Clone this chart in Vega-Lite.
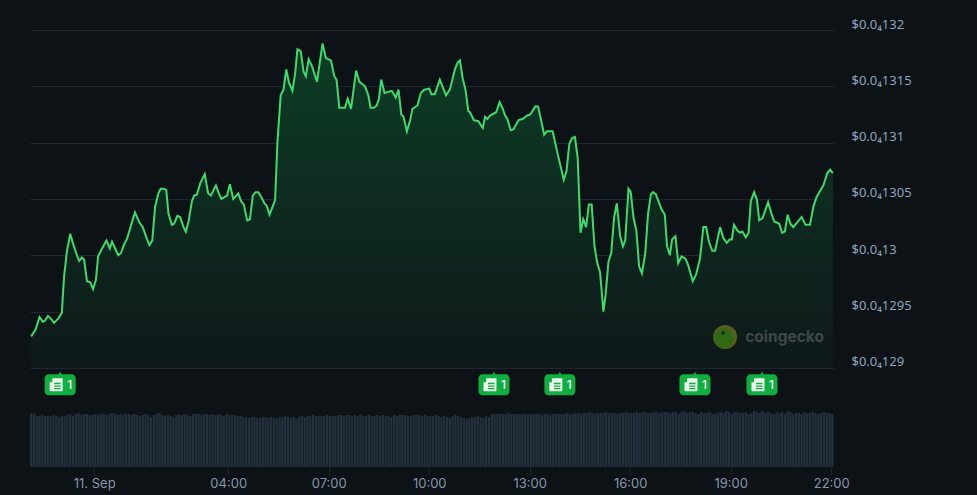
{
"$schema":"https://vega.github.io/schema/vega-lite/v6.json",
"autosize":{"type":"none"},
"padding":{"left":30,"top":30,"right":143,"bottom":28},
"width":804,
"height":437,
"background":"#0d1217",
"config":{"view":{"stroke":null},"font":"Inter"},
"datasets":{
"price":[
{"t":"2024-09-10T22:07Z","p":0.000012928},{"t":"2024-09-10T22:15Z","p":0.000012934},{"t":"2024-09-10T22:22Z","p":0.000012945},{"t":"2024-09-10T22:28Z","p":0.000012941},{"t":"2024-09-10T22:32Z","p":0.000012942},{"t":"2024-09-10T22:37Z","p":0.000012946},{"t":"2024-09-10T22:42Z","p":0.000012944},{"t":"2024-09-10T22:48Z","p":0.00001294},{"t":"2024-09-10T22:56Z","p":0.000012944},{"t":"2024-09-10T23:02Z","p":0.000012949},
{"t":"2024-09-10T23:06Z","p":0.000012981},{"t":"2024-09-10T23:11Z","p":0.000013003},{"t":"2024-09-10T23:17Z","p":0.000013019},{"t":"2024-09-10T23:23Z","p":0.000013009},{"t":"2024-09-10T23:29Z","p":0.000013},{"t":"2024-09-10T23:33Z","p":0.000012995},{"t":"2024-09-10T23:38Z","p":0.000012998},{"t":"2024-09-10T23:42Z","p":0.000012996},{"t":"2024-09-10T23:47Z","p":0.000012977},{"t":"2024-09-10T23:53Z","p":0.000012976},
{"t":"2024-09-10T23:58Z","p":0.00001297},{"t":"2024-09-11T00:03Z","p":0.000012978},{"t":"2024-09-11T00:07Z","p":0.000012999},{"t":"2024-09-11T00:14Z","p":0.000013006},{"t":"2024-09-11T00:22Z","p":0.000013013},{"t":"2024-09-11T00:28Z","p":0.000013006},{"t":"2024-09-11T00:32Z","p":0.000013012},{"t":"2024-09-11T00:43Z","p":0.000013},{"t":"2024-09-11T00:48Z","p":0.000013002},{"t":"2024-09-11T00:53Z","p":0.000013009},
{"t":"2024-09-11T00:59Z","p":0.000013015},{"t":"2024-09-11T01:05Z","p":0.000013025},{"t":"2024-09-11T01:13Z","p":0.000013038},{"t":"2024-09-11T01:21Z","p":0.000013029},{"t":"2024-09-11T01:27Z","p":0.000013025},{"t":"2024-09-11T01:34Z","p":0.000013015},{"t":"2024-09-11T01:39Z","p":0.000013009},{"t":"2024-09-11T01:44Z","p":0.000013013},{"t":"2024-09-11T01:49Z","p":0.000013043},{"t":"2024-09-11T01:55Z","p":0.000013055},
{"t":"2024-09-11T01:59Z","p":0.000013059},{"t":"2024-09-11T02:04Z","p":0.000013059},{"t":"2024-09-11T02:09Z","p":0.000013058},{"t":"2024-09-11T02:13Z","p":0.000013037},{"t":"2024-09-11T02:19Z","p":0.000013027},{"t":"2024-09-11T02:23Z","p":0.000013028},{"t":"2024-09-11T02:29Z","p":0.000013035},{"t":"2024-09-11T02:34Z","p":0.000013034},{"t":"2024-09-11T02:40Z","p":0.000013025},{"t":"2024-09-11T02:44Z","p":0.000013021},
{"t":"2024-09-11T02:49Z","p":0.00001303},{"t":"2024-09-11T02:55Z","p":0.000013048},{"t":"2024-09-11T02:59Z","p":0.000013053},{"t":"2024-09-11T03:04Z","p":0.000013054},{"t":"2024-09-11T03:10Z","p":0.000013064},{"t":"2024-09-11T03:18Z","p":0.000013072},{"t":"2024-09-11T03:24Z","p":0.000013055},{"t":"2024-09-11T03:29Z","p":0.000013053},{"t":"2024-09-11T03:38Z","p":0.000013062},{"t":"2024-09-11T03:44Z","p":0.000013054},
{"t":"2024-09-11T03:48Z","p":0.00001305},{"t":"2024-09-11T03:58Z","p":0.000013053},{"t":"2024-09-11T04:03Z","p":0.000013063},{"t":"2024-09-11T04:09Z","p":0.00001305},{"t":"2024-09-11T04:18Z","p":0.000013055},{"t":"2024-09-11T04:23Z","p":0.000013048},{"t":"2024-09-11T04:28Z","p":0.000013045},{"t":"2024-09-11T04:34Z","p":0.000013031},{"t":"2024-09-11T04:39Z","p":0.000013032},{"t":"2024-09-11T04:44Z","p":0.000013053},
{"t":"2024-09-11T04:49Z","p":0.000013056},{"t":"2024-09-11T04:54Z","p":0.000013056},{"t":"2024-09-11T05:00Z","p":0.000013051},{"t":"2024-09-11T05:05Z","p":0.000013046},{"t":"2024-09-11T05:09Z","p":0.000013044},{"t":"2024-09-11T05:14Z","p":0.000013036},{"t":"2024-09-11T05:24Z","p":0.000013049},{"t":"2024-09-11T05:28Z","p":0.000013099},{"t":"2024-09-11T05:34Z","p":0.000013142},{"t":"2024-09-11T05:39Z","p":0.000013147},
{"t":"2024-09-11T05:44Z","p":0.000013165},{"t":"2024-09-11T05:49Z","p":0.000013153},{"t":"2024-09-11T05:55Z","p":0.000013146},{"t":"2024-09-11T06:00Z","p":0.000013162},{"t":"2024-09-11T06:04Z","p":0.000013183},{"t":"2024-09-11T06:10Z","p":0.000013181},{"t":"2024-09-11T06:15Z","p":0.000013163},{"t":"2024-09-11T06:19Z","p":0.000013159},{"t":"2024-09-11T06:24Z","p":0.000013174},{"t":"2024-09-11T06:30Z","p":0.000013168},
{"t":"2024-09-11T06:39Z","p":0.000013154},{"t":"2024-09-11T06:49Z","p":0.000013188},{"t":"2024-09-11T06:55Z","p":0.000013175},{"t":"2024-09-11T07:04Z","p":0.000013173},{"t":"2024-09-11T07:10Z","p":0.000013159},{"t":"2024-09-11T07:14Z","p":0.000013156},{"t":"2024-09-11T07:19Z","p":0.000013131},{"t":"2024-09-11T07:29Z","p":0.000013131},{"t":"2024-09-11T07:34Z","p":0.000013139},{"t":"2024-09-11T07:40Z","p":0.00001313},
{"t":"2024-09-11T07:49Z","p":0.000013164},{"t":"2024-09-11T07:55Z","p":0.000013154},{"t":"2024-09-11T08:05Z","p":0.00001315},{"t":"2024-09-11T08:11Z","p":0.000013142},{"t":"2024-09-11T08:15Z","p":0.000013131},{"t":"2024-09-11T08:21Z","p":0.000013131},{"t":"2024-09-11T08:26Z","p":0.000013133},{"t":"2024-09-11T08:30Z","p":0.000013139},{"t":"2024-09-11T08:34Z","p":0.000013156},{"t":"2024-09-11T08:40Z","p":0.000013144},
{"t":"2024-09-11T08:53Z","p":0.000013146},{"t":"2024-09-11T09:00Z","p":0.00001314},{"t":"2024-09-11T09:05Z","p":0.000013147},{"t":"2024-09-11T09:10Z","p":0.000013125},{"t":"2024-09-11T09:14Z","p":0.000013123},{"t":"2024-09-11T09:20Z","p":0.00001311},{"t":"2024-09-11T09:26Z","p":0.00001312},{"t":"2024-09-11T09:30Z","p":0.00001313},{"t":"2024-09-11T09:39Z","p":0.000013133},{"t":"2024-09-11T09:45Z","p":0.000013144},
{"t":"2024-09-11T09:51Z","p":0.000013147},{"t":"2024-09-11T10:00Z","p":0.000013148},{"t":"2024-09-11T10:04Z","p":0.000013143},{"t":"2024-09-11T10:10Z","p":0.000013143},{"t":"2024-09-11T10:19Z","p":0.000013156},{"t":"2024-09-11T10:30Z","p":0.000013142},{"t":"2024-09-11T10:37Z","p":0.000013147},{"t":"2024-09-11T10:46Z","p":0.000013165},{"t":"2024-09-11T10:51Z","p":0.000013171},{"t":"2024-09-11T10:55Z","p":0.000013173},
{"t":"2024-09-11T11:00Z","p":0.000013157},{"t":"2024-09-11T11:05Z","p":0.000013147},{"t":"2024-09-11T11:10Z","p":0.000013128},{"t":"2024-09-11T11:13Z","p":0.000013127},{"t":"2024-09-11T11:20Z","p":0.00001312},{"t":"2024-09-11T11:28Z","p":0.000013119},{"t":"2024-09-11T11:36Z","p":0.000013113},{"t":"2024-09-11T11:40Z","p":0.000013123},{"t":"2024-09-11T11:44Z","p":0.000013121},{"t":"2024-09-11T11:49Z","p":0.000013124},
{"t":"2024-09-11T12:00Z","p":0.000013127},{"t":"2024-09-11T12:06Z","p":0.000013136},{"t":"2024-09-11T12:11Z","p":0.000013131},{"t":"2024-09-11T12:16Z","p":0.000013124},{"t":"2024-09-11T12:20Z","p":0.000013121},{"t":"2024-09-11T12:26Z","p":0.000013111},{"t":"2024-09-11T12:31Z","p":0.000013112},{"t":"2024-09-11T12:40Z","p":0.00001312},{"t":"2024-09-11T12:47Z","p":0.000013121},{"t":"2024-09-11T12:55Z","p":0.000013124},
{"t":"2024-09-11T13:01Z","p":0.000013125},{"t":"2024-09-11T13:10Z","p":0.000013132},{"t":"2024-09-11T13:15Z","p":0.000013132},{"t":"2024-09-11T13:26Z","p":0.000013107},{"t":"2024-09-11T13:31Z","p":0.00001311},{"t":"2024-09-11T13:41Z","p":0.00001311},{"t":"2024-09-11T13:51Z","p":0.000013088},{"t":"2024-09-11T14:01Z","p":0.000013067},{"t":"2024-09-11T14:06Z","p":0.000013075},{"t":"2024-09-11T14:11Z","p":0.000013099},
{"t":"2024-09-11T14:16Z","p":0.000013104},{"t":"2024-09-11T14:21Z","p":0.000013105},{"t":"2024-09-11T14:26Z","p":0.000013086},{"t":"2024-09-11T14:31Z","p":0.00001302},{"t":"2024-09-11T14:36Z","p":0.000013032},{"t":"2024-09-11T14:41Z","p":0.000013025},{"t":"2024-09-11T14:46Z","p":0.000013045},{"t":"2024-09-11T14:51Z","p":0.000013045},{"t":"2024-09-11T14:56Z","p":0.000013008},{"t":"2024-09-11T15:01Z","p":0.000012993},
{"t":"2024-09-11T15:06Z","p":0.000012985},{"t":"2024-09-11T15:12Z","p":0.00001295},{"t":"2024-09-11T15:16Z","p":0.000012965},{"t":"2024-09-11T15:21Z","p":0.000012994},{"t":"2024-09-11T15:26Z","p":0.000013002},{"t":"2024-09-11T15:31Z","p":0.000013033},{"t":"2024-09-11T15:36Z","p":0.000013046},{"t":"2024-09-11T15:42Z","p":0.000013017},{"t":"2024-09-11T15:47Z","p":0.000013008},{"t":"2024-09-11T15:51Z","p":0.000013013},
{"t":"2024-09-11T15:57Z","p":0.000013059},{"t":"2024-09-11T16:01Z","p":0.000013056},{"t":"2024-09-11T16:06Z","p":0.000013033},{"t":"2024-09-11T16:11Z","p":0.000013022},{"t":"2024-09-11T16:16Z","p":0.00001299},{"t":"2024-09-11T16:21Z","p":0.000012984},{"t":"2024-09-11T16:27Z","p":0.000013002},{"t":"2024-09-11T16:32Z","p":0.000013037},{"t":"2024-09-11T16:37Z","p":0.000013054},{"t":"2024-09-11T16:41Z","p":0.000013056},
{"t":"2024-09-11T16:46Z","p":0.000013054},{"t":"2024-09-11T16:56Z","p":0.000013041},{"t":"2024-09-11T17:02Z","p":0.000013036},{"t":"2024-09-11T17:06Z","p":0.000013008},{"t":"2024-09-11T17:11Z","p":0.000013},{"t":"2024-09-11T17:15Z","p":0.000013014},{"t":"2024-09-11T17:21Z","p":0.000013017},{"t":"2024-09-11T17:26Z","p":0.000012993},{"t":"2024-09-11T17:32Z","p":0.000012999},{"t":"2024-09-11T17:39Z","p":0.000012997},
{"t":"2024-09-11T17:44Z","p":0.000012991},{"t":"2024-09-11T17:52Z","p":0.000012977},{"t":"2024-09-11T17:58Z","p":0.000012983},{"t":"2024-09-11T18:05Z","p":0.000012997},{"t":"2024-09-11T18:11Z","p":0.000013025},{"t":"2024-09-11T18:16Z","p":0.000013025},{"t":"2024-09-11T18:21Z","p":0.000013012},{"t":"2024-09-11T18:27Z","p":0.000013004},{"t":"2024-09-11T18:32Z","p":0.000013004},{"t":"2024-09-11T18:41Z","p":0.000013025},
{"t":"2024-09-11T18:47Z","p":0.000013015},{"t":"2024-09-11T18:53Z","p":0.000013011},{"t":"2024-09-11T18:58Z","p":0.000013014},{"t":"2024-09-11T19:02Z","p":0.000013014},{"t":"2024-09-11T19:06Z","p":0.000013027},{"t":"2024-09-11T19:12Z","p":0.000013022},{"t":"2024-09-11T19:17Z","p":0.00001302},{"t":"2024-09-11T19:21Z","p":0.000013021},{"t":"2024-09-11T19:27Z","p":0.000013016},{"t":"2024-09-11T19:32Z","p":0.00001302},
{"t":"2024-09-11T19:36Z","p":0.000013048},{"t":"2024-09-11T19:42Z","p":0.000013056},{"t":"2024-09-11T19:47Z","p":0.000013049},{"t":"2024-09-11T19:51Z","p":0.000013031},{"t":"2024-09-11T19:57Z","p":0.000013033},{"t":"2024-09-11T20:07Z","p":0.000013047},{"t":"2024-09-11T20:13Z","p":0.000013037},{"t":"2024-09-11T20:18Z","p":0.00001303},{"t":"2024-09-11T20:27Z","p":0.000013028},{"t":"2024-09-11T20:32Z","p":0.00001302},
{"t":"2024-09-11T20:37Z","p":0.000013021},{"t":"2024-09-11T20:42Z","p":0.000013036},{"t":"2024-09-11T20:47Z","p":0.000013028},{"t":"2024-09-11T20:52Z","p":0.000013025},{"t":"2024-09-11T21:07Z","p":0.000013034},{"t":"2024-09-11T21:14Z","p":0.000013027},{"t":"2024-09-11T21:22Z","p":0.000013027},{"t":"2024-09-11T21:28Z","p":0.000013043},{"t":"2024-09-11T21:34Z","p":0.000013052},{"t":"2024-09-11T21:46Z","p":0.000013062},
{"t":"2024-09-11T21:53Z","p":0.000013073},{"t":"2024-09-11T21:58Z","p":0.000013076},{"t":"2024-09-11T22:03Z","p":0.000013073}
],
"volume":[
{"t":"2024-09-10T22:07Z","v":54},{"t":"2024-09-10T22:12Z","v":53},{"t":"2024-09-10T22:17Z","v":51},{"t":"2024-09-10T22:22Z","v":51},{"t":"2024-09-10T22:27Z","v":52},{"t":"2024-09-10T22:32Z","v":51},{"t":"2024-09-10T22:37Z","v":51},{"t":"2024-09-10T22:42Z","v":51},{"t":"2024-09-10T22:47Z","v":52},{"t":"2024-09-10T22:52Z","v":51},{"t":"2024-09-10T22:57Z","v":50},{"t":"2024-09-10T23:02Z","v":51},
{"t":"2024-09-10T23:07Z","v":51},{"t":"2024-09-10T23:12Z","v":52},{"t":"2024-09-10T23:17Z","v":53},{"t":"2024-09-10T23:22Z","v":51},{"t":"2024-09-10T23:27Z","v":53},{"t":"2024-09-10T23:32Z","v":54},{"t":"2024-09-10T23:37Z","v":52},{"t":"2024-09-10T23:42Z","v":53},{"t":"2024-09-10T23:47Z","v":53},{"t":"2024-09-10T23:52Z","v":52},{"t":"2024-09-10T23:57Z","v":52},{"t":"2024-09-11T00:02Z","v":53},
{"t":"2024-09-11T00:07Z","v":52},{"t":"2024-09-11T00:12Z","v":53},{"t":"2024-09-11T00:17Z","v":53},{"t":"2024-09-11T00:22Z","v":52},{"t":"2024-09-11T00:27Z","v":53},{"t":"2024-09-11T00:32Z","v":54},{"t":"2024-09-11T00:37Z","v":53},{"t":"2024-09-11T00:42Z","v":52},{"t":"2024-09-11T00:47Z","v":53},{"t":"2024-09-11T00:52Z","v":52},{"t":"2024-09-11T00:57Z","v":53},{"t":"2024-09-11T01:02Z","v":53},
{"t":"2024-09-11T01:07Z","v":52},{"t":"2024-09-11T01:12Z","v":53},{"t":"2024-09-11T01:17Z","v":52},{"t":"2024-09-11T01:22Z","v":51},{"t":"2024-09-11T01:27Z","v":52},{"t":"2024-09-11T01:32Z","v":53},{"t":"2024-09-11T01:37Z","v":52},{"t":"2024-09-11T01:42Z","v":50},{"t":"2024-09-11T01:47Z","v":52},{"t":"2024-09-11T01:52Z","v":53},{"t":"2024-09-11T01:57Z","v":54},{"t":"2024-09-11T02:02Z","v":52},
{"t":"2024-09-11T02:07Z","v":51},{"t":"2024-09-11T02:12Z","v":52},{"t":"2024-09-11T02:17Z","v":51},{"t":"2024-09-11T02:22Z","v":50},{"t":"2024-09-11T02:27Z","v":52},{"t":"2024-09-11T02:32Z","v":53},{"t":"2024-09-11T02:37Z","v":52},{"t":"2024-09-11T02:42Z","v":53},{"t":"2024-09-11T02:47Z","v":52},{"t":"2024-09-11T02:52Z","v":51},{"t":"2024-09-11T02:57Z","v":53},{"t":"2024-09-11T03:02Z","v":53},
{"t":"2024-09-11T03:07Z","v":53},{"t":"2024-09-11T03:12Z","v":52},{"t":"2024-09-11T03:17Z","v":53},{"t":"2024-09-11T03:22Z","v":53},{"t":"2024-09-11T03:27Z","v":52},{"t":"2024-09-11T03:32Z","v":53},{"t":"2024-09-11T03:37Z","v":52},{"t":"2024-09-11T03:42Z","v":53},{"t":"2024-09-11T03:47Z","v":52},{"t":"2024-09-11T03:52Z","v":51},{"t":"2024-09-11T03:57Z","v":53},{"t":"2024-09-11T04:02Z","v":52},
{"t":"2024-09-11T04:07Z","v":52},{"t":"2024-09-11T04:12Z","v":52},{"t":"2024-09-11T04:17Z","v":51},{"t":"2024-09-11T04:22Z","v":51},{"t":"2024-09-11T04:27Z","v":50},{"t":"2024-09-11T04:32Z","v":50},{"t":"2024-09-11T04:37Z","v":49},{"t":"2024-09-11T04:42Z","v":50},{"t":"2024-09-11T04:47Z","v":50},{"t":"2024-09-11T04:52Z","v":49},{"t":"2024-09-11T04:57Z","v":49},{"t":"2024-09-11T05:02Z","v":50},
{"t":"2024-09-11T05:07Z","v":50},{"t":"2024-09-11T05:12Z","v":49},{"t":"2024-09-11T05:17Z","v":50},{"t":"2024-09-11T05:22Z","v":49},{"t":"2024-09-11T05:27Z","v":49},{"t":"2024-09-11T05:32Z","v":50},{"t":"2024-09-11T05:37Z","v":50},{"t":"2024-09-11T05:42Z","v":51},{"t":"2024-09-11T05:47Z","v":50},{"t":"2024-09-11T05:52Z","v":49},{"t":"2024-09-11T05:57Z","v":50},{"t":"2024-09-11T06:02Z","v":48},
{"t":"2024-09-11T06:07Z","v":50},{"t":"2024-09-11T06:12Z","v":51},{"t":"2024-09-11T06:17Z","v":50},{"t":"2024-09-11T06:22Z","v":51},{"t":"2024-09-11T06:27Z","v":51},{"t":"2024-09-11T06:32Z","v":52},{"t":"2024-09-11T06:37Z","v":51},{"t":"2024-09-11T06:42Z","v":51},{"t":"2024-09-11T06:47Z","v":51},{"t":"2024-09-11T06:52Z","v":51},{"t":"2024-09-11T06:57Z","v":52},{"t":"2024-09-11T07:02Z","v":51},
{"t":"2024-09-11T07:07Z","v":51},{"t":"2024-09-11T07:12Z","v":51},{"t":"2024-09-11T07:17Z","v":52},{"t":"2024-09-11T07:22Z","v":52},{"t":"2024-09-11T07:27Z","v":51},{"t":"2024-09-11T07:32Z","v":52},{"t":"2024-09-11T07:37Z","v":52},{"t":"2024-09-11T07:42Z","v":51},{"t":"2024-09-11T07:47Z","v":52},{"t":"2024-09-11T07:52Z","v":51},{"t":"2024-09-11T07:57Z","v":52},{"t":"2024-09-11T08:02Z","v":51},
{"t":"2024-09-11T08:07Z","v":51},{"t":"2024-09-11T08:12Z","v":52},{"t":"2024-09-11T08:17Z","v":51},{"t":"2024-09-11T08:22Z","v":51},{"t":"2024-09-11T08:27Z","v":52},{"t":"2024-09-11T08:32Z","v":51},{"t":"2024-09-11T08:37Z","v":52},{"t":"2024-09-11T08:42Z","v":51},{"t":"2024-09-11T08:47Z","v":51},{"t":"2024-09-11T08:52Z","v":50},{"t":"2024-09-11T08:57Z","v":52},{"t":"2024-09-11T09:02Z","v":51},
{"t":"2024-09-11T09:07Z","v":52},{"t":"2024-09-11T09:12Z","v":52},{"t":"2024-09-11T09:17Z","v":52},{"t":"2024-09-11T09:22Z","v":51},{"t":"2024-09-11T09:27Z","v":51},{"t":"2024-09-11T09:32Z","v":52},{"t":"2024-09-11T09:37Z","v":52},{"t":"2024-09-11T09:42Z","v":52},{"t":"2024-09-11T09:47Z","v":51},{"t":"2024-09-11T09:52Z","v":52},{"t":"2024-09-11T09:57Z","v":51},{"t":"2024-09-11T10:02Z","v":51},
{"t":"2024-09-11T10:07Z","v":51},{"t":"2024-09-11T10:12Z","v":52},{"t":"2024-09-11T10:17Z","v":51},{"t":"2024-09-11T10:22Z","v":50},{"t":"2024-09-11T10:27Z","v":51},{"t":"2024-09-11T10:32Z","v":50},{"t":"2024-09-11T10:37Z","v":49},{"t":"2024-09-11T10:42Z","v":51},{"t":"2024-09-11T10:47Z","v":52},{"t":"2024-09-11T10:52Z","v":51},{"t":"2024-09-11T10:57Z","v":50},{"t":"2024-09-11T11:02Z","v":49},
{"t":"2024-09-11T11:07Z","v":48},{"t":"2024-09-11T11:12Z","v":49},{"t":"2024-09-11T11:17Z","v":50},{"t":"2024-09-11T11:22Z","v":50},{"t":"2024-09-11T11:27Z","v":51},{"t":"2024-09-11T11:32Z","v":50},{"t":"2024-09-11T11:37Z","v":49},{"t":"2024-09-11T11:42Z","v":51},{"t":"2024-09-11T11:47Z","v":50},{"t":"2024-09-11T11:52Z","v":53},{"t":"2024-09-11T11:57Z","v":53},{"t":"2024-09-11T12:02Z","v":53},
{"t":"2024-09-11T12:07Z","v":53},{"t":"2024-09-11T12:12Z","v":53},{"t":"2024-09-11T12:17Z","v":53},{"t":"2024-09-11T12:22Z","v":54},{"t":"2024-09-11T12:27Z","v":53},{"t":"2024-09-11T12:32Z","v":53},{"t":"2024-09-11T12:37Z","v":53},{"t":"2024-09-11T12:42Z","v":53},{"t":"2024-09-11T12:47Z","v":53},{"t":"2024-09-11T12:52Z","v":53},{"t":"2024-09-11T12:57Z","v":52},{"t":"2024-09-11T13:02Z","v":53},
{"t":"2024-09-11T13:07Z","v":53},{"t":"2024-09-11T13:12Z","v":53},{"t":"2024-09-11T13:17Z","v":53},{"t":"2024-09-11T13:22Z","v":52},{"t":"2024-09-11T13:27Z","v":53},{"t":"2024-09-11T13:32Z","v":53},{"t":"2024-09-11T13:37Z","v":52},{"t":"2024-09-11T13:42Z","v":53},{"t":"2024-09-11T13:47Z","v":53},{"t":"2024-09-11T13:52Z","v":53},{"t":"2024-09-11T13:57Z","v":53},{"t":"2024-09-11T14:02Z","v":53},
{"t":"2024-09-11T14:07Z","v":54},{"t":"2024-09-11T14:12Z","v":53},{"t":"2024-09-11T14:17Z","v":53},{"t":"2024-09-11T14:22Z","v":54},{"t":"2024-09-11T14:27Z","v":54},{"t":"2024-09-11T14:32Z","v":53},{"t":"2024-09-11T14:37Z","v":54},{"t":"2024-09-11T14:42Z","v":54},{"t":"2024-09-11T14:47Z","v":55},{"t":"2024-09-11T14:52Z","v":54},{"t":"2024-09-11T14:57Z","v":53},{"t":"2024-09-11T15:02Z","v":54},
{"t":"2024-09-11T15:07Z","v":54},{"t":"2024-09-11T15:12Z","v":54},{"t":"2024-09-11T15:17Z","v":55},{"t":"2024-09-11T15:22Z","v":54},{"t":"2024-09-11T15:27Z","v":54},{"t":"2024-09-11T15:32Z","v":54},{"t":"2024-09-11T15:37Z","v":53},{"t":"2024-09-11T15:42Z","v":54},{"t":"2024-09-11T15:47Z","v":54},{"t":"2024-09-11T15:52Z","v":55},{"t":"2024-09-11T15:57Z","v":54},{"t":"2024-09-11T16:02Z","v":54},
{"t":"2024-09-11T16:07Z","v":54},{"t":"2024-09-11T16:12Z","v":55},{"t":"2024-09-11T16:17Z","v":54},{"t":"2024-09-11T16:22Z","v":55},{"t":"2024-09-11T16:27Z","v":55},{"t":"2024-09-11T16:32Z","v":54},{"t":"2024-09-11T16:37Z","v":54},{"t":"2024-09-11T16:42Z","v":55},{"t":"2024-09-11T16:47Z","v":55},{"t":"2024-09-11T16:52Z","v":54},{"t":"2024-09-11T16:57Z","v":55},{"t":"2024-09-11T17:02Z","v":55},
{"t":"2024-09-11T17:07Z","v":55},{"t":"2024-09-11T17:12Z","v":54},{"t":"2024-09-11T17:17Z","v":55},{"t":"2024-09-11T17:22Z","v":55},{"t":"2024-09-11T17:27Z","v":53},{"t":"2024-09-11T17:32Z","v":55},{"t":"2024-09-11T17:37Z","v":56},{"t":"2024-09-11T17:42Z","v":54},{"t":"2024-09-11T17:47Z","v":55},{"t":"2024-09-11T17:52Z","v":55},{"t":"2024-09-11T17:57Z","v":54},{"t":"2024-09-11T18:02Z","v":53},
{"t":"2024-09-11T18:07Z","v":55},{"t":"2024-09-11T18:12Z","v":54},{"t":"2024-09-11T18:17Z","v":54},{"t":"2024-09-11T18:22Z","v":55},{"t":"2024-09-11T18:27Z","v":53},{"t":"2024-09-11T18:32Z","v":53},{"t":"2024-09-11T18:37Z","v":54},{"t":"2024-09-11T18:42Z","v":55},{"t":"2024-09-11T18:47Z","v":54},{"t":"2024-09-11T18:52Z","v":56},{"t":"2024-09-11T18:57Z","v":55},{"t":"2024-09-11T19:02Z","v":53},
{"t":"2024-09-11T19:07Z","v":55},{"t":"2024-09-11T19:12Z","v":55},{"t":"2024-09-11T19:17Z","v":54},{"t":"2024-09-11T19:22Z","v":54},{"t":"2024-09-11T19:27Z","v":55},{"t":"2024-09-11T19:32Z","v":53},{"t":"2024-09-11T19:37Z","v":54},{"t":"2024-09-11T19:42Z","v":56},{"t":"2024-09-11T19:47Z","v":55},{"t":"2024-09-11T19:52Z","v":54},{"t":"2024-09-11T19:57Z","v":56},{"t":"2024-09-11T20:02Z","v":54},
{"t":"2024-09-11T20:07Z","v":55},{"t":"2024-09-11T20:12Z","v":54},{"t":"2024-09-11T20:17Z","v":53},{"t":"2024-09-11T20:22Z","v":55},{"t":"2024-09-11T20:27Z","v":54},{"t":"2024-09-11T20:32Z","v":55},{"t":"2024-09-11T20:37Z","v":53},{"t":"2024-09-11T20:42Z","v":56},{"t":"2024-09-11T20:47Z","v":55},{"t":"2024-09-11T20:52Z","v":53},{"t":"2024-09-11T20:57Z","v":54},{"t":"2024-09-11T21:02Z","v":54},
{"t":"2024-09-11T21:07Z","v":53},{"t":"2024-09-11T21:12Z","v":55},{"t":"2024-09-11T21:17Z","v":54},{"t":"2024-09-11T21:22Z","v":54},{"t":"2024-09-11T21:27Z","v":55},{"t":"2024-09-11T21:32Z","v":54},{"t":"2024-09-11T21:37Z","v":53},{"t":"2024-09-11T21:42Z","v":54},{"t":"2024-09-11T21:47Z","v":55},{"t":"2024-09-11T21:52Z","v":54},{"t":"2024-09-11T21:57Z","v":54},{"t":"2024-09-11T22:02Z","v":53}
],
"news":[
{"t":"2024-09-10T22:59Z","level":0.000012885,"count":1},
{"t":"2024-09-11T11:56Z","level":0.000012885,"count":1},
{"t":"2024-09-11T13:54Z","level":0.000012885,"count":1},
{"t":"2024-09-11T17:56Z","level":0.000012885,"count":1},
{"t":"2024-09-11T19:56Z","level":0.000012885,"count":1}
],
"brand":[
{"logo_t":"2024-09-11T18:50Z","text_t":"2024-09-11T19:26Z","level":0.0000129275,"name":"coingecko"}
]
},
"encoding":{
"x":{
"field":"t",
"type":"temporal",
"title":null,
"scale":{"type":"utc","padding":0,"domain":["2024-09-10T22:05Z","2024-09-11T22:05Z"]},
"axis":{
"values":["2024-09-11T00:00Z","2024-09-11T04:00Z","2024-09-11T07:00Z","2024-09-11T10:00Z","2024-09-11T13:00Z","2024-09-11T16:00Z","2024-09-11T19:00Z","2024-09-11T22:00Z"],
"labelExpr":"utcFormat(datum.value,'%H:%M')=='00:00' ? '11. Sep' : utcFormat(datum.value,'%H:%M')",
"domain":false,
"grid":false,
"tickColor":"#1c242d",
"tickSize":8,
"labelColor":"#8396ab",
"labelFont":"Inter",
"labelFontSize":13,
"labelPadding":2,
"labelFlush":false,
"labelOverlap":false,
"encode":{"labels":{"update":{"dx":{"signal":"utchours(datum.value)==7 ? 2 : utchours(datum.value)==10 ? -2 : utchours(datum.value)==13 ? -4 : utchours(datum.value)==16 ? -3 : utchours(datum.value)==19 ? -3 : utchours(datum.value)==22 ? -3 : 0"}}}}
}
}
},
"layer":[
{
"data":{"name":"volume"},
"mark":{"type":"bar","size":2.3,"color":"#242f3d"},
"encoding":{
"y":{"field":"v","type":"quantitative","scale":{"domain":[0,437],"nice":false,"zero":true},"axis":null}
}
},
{
"encoding":{
"y":{
"field":"p",
"type":"quantitative",
"title":null,
"scale":{"domain":[0.000012812,0.0000132],"nice":false,"zero":false},
"axis":{
"orient":"right",
"values":[0.0000129,0.00001295,0.000013,0.00001305,0.0000131,0.00001315,0.0000132],
"labelExpr":"'$0.0₄'+replace(format(datum.value*100000,'.3~f'),'.','')",
"domain":false,
"ticks":false,
"grid":true,
"gridColor":"#1e2630",
"gridWidth":1,
"labelColor":"#8fa3ba",
"labelFont":"Noto Sans",
"labelFontSize":13,
"labelPadding":17,
"labelOffset":-6,
"labelOverlap":false
}
}
},
"layer":[
{
"data":{"name":"price"},
"mark":{
"type":"area",
"color":{"x1":1,"y1":0,"x2":1,"y2":1,"gradient":"linear","stops":[{"offset":0,"color":"#0e3d26"},{"offset":1,"color":"#0e1819"}]}
},
"encoding":{"y2":{"datum":0.0000129}}
},
{
"data":{"name":"price"},
"mark":{"type":"line","color":"#3ddb6c","strokeWidth":2}
},
{
"data":{"name":"news"},
"mark":{"type":"rect","width":31,"height":21,"cornerRadius":4,"color":"#0fae3f"},
"encoding":{"y":{"field":"level","type":"quantitative"}}
},
{
"data":{"name":"news"},
"mark":{"type":"point","shape":"triangle-up","filled":true,"size":22,"opacity":1,"color":"#0fae3f","yOffset":-11},
"encoding":{"y":{"field":"level","type":"quantitative"}}
},
{
"data":{"name":"news"},
"mark":{"type":"point","filled":true,"size":169,"opacity":1,"color":"#e9f7ec","xOffset":-4,
"shape":"M-0.6 -1H1V0.8C1 0.95 0.95 1 0.8 1H-0.8C-0.95 1 -1 0.95 -1 0.8V-0.4H-0.6ZM-0.3 -0.1H0.7V-0.3H-0.3ZM-0.3 0.3H0.7V0.1H-0.3ZM-0.3 0.7H0.7V0.5H-0.3Z"},
"encoding":{"y":{"field":"level","type":"quantitative"}}
},
{
"data":{"name":"news"},
"mark":{"type":"text","color":"#ffffff","font":"Inter","fontSize":12,"fontWeight":500,"dx":9.5},
"encoding":{
"y":{"field":"level","type":"quantitative"},
"text":{"field":"count","type":"quantitative"}
}
},
{
"data":{"name":"brand"},
"mark":{"type":"point","filled":true,"shape":"circle","size":576,"opacity":1,"color":"#5a5c1e"},
"encoding":{"x":{"field":"logo_t","type":"temporal"},"y":{"field":"level","type":"quantitative"}}
},
{
"data":{"name":"brand"},
"mark":{"type":"point","filled":true,"shape":"circle","size":380,"opacity":1,"color":"#2f6a12","xOffset":-1,"yOffset":1},
"encoding":{"x":{"field":"logo_t","type":"temporal"},"y":{"field":"level","type":"quantitative"}}
},
{
"data":{"name":"brand"},
"mark":{"type":"point","filled":true,"shape":"circle","size":14,"opacity":1,"color":"#1a2a1c","xOffset":-2,"yOffset":-4},
"encoding":{"x":{"field":"logo_t","type":"temporal"},"y":{"field":"level","type":"quantitative"}}
},
{
"data":{"name":"brand"},
"mark":{"type":"text","align":"left","color":"#41474b","font":"Inter","fontSize":15.5,"fontWeight":700},
"encoding":{
"x":{"field":"text_t","type":"temporal"},
"y":{"field":"level","type":"quantitative"},
"text":{"field":"name","type":"nominal"}
}
}
]
}
],
"resolve":{"scale":{"y":"independent"}}
}
